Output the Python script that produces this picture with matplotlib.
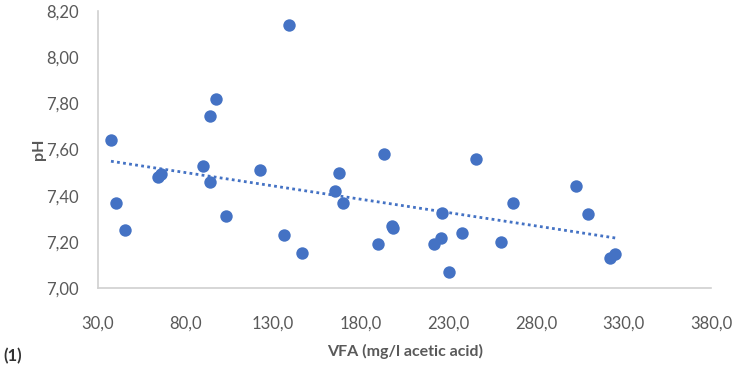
import numpy as np
import matplotlib.pyplot as plt
from matplotlib.ticker import FuncFormatter

# VFA (mg/l acetic acid) vs pH
vfa = [37.4, 40.3, 45.4, 64.5, 65.8, 89.8, 93.8, 93.8, 97.6, 103.1, 122.5,
       136.2, 138.9, 146.7, 165.0, 167.8, 169.7, 189.9, 193.0, 197.7, 198.6,
       221.7, 225.7, 226.6, 230.5, 238.0, 245.9, 260.3, 267.0, 302.8, 309.4,
       322.0, 325.3]
ph = [7.64, 7.37, 7.25, 7.48, 7.495, 7.53, 7.46, 7.745, 7.817, 7.31, 7.51,
      7.23, 8.14, 7.15, 7.42, 7.50, 7.37, 7.19, 7.58, 7.267, 7.258,
      7.19, 7.216, 7.325, 7.07, 7.238, 7.56, 7.20, 7.37, 7.443, 7.32,
      7.132, 7.147]

x_ticks = [30, 80, 130, 180, 230, 280, 330, 380]
y_ticks = [7.0, 7.2, 7.4, 7.6, 7.8, 8.0, 8.2]

blue = '#4472C4'
grey = '#595959'
plt.rcParams['font.family'] = ['Lato', 'DejaVu Sans']

fig = plt.figure(figsize=(7.37, 3.65), dpi=100)
ax = fig.add_axes([0.133, 0.211, 0.832, 0.759])

ax.scatter(vfa, ph, s=80, color=blue, zorder=3, linewidths=0)

# linear trend line
k, b = np.polyfit(vfa, ph, 1)
xs = np.array([min(vfa), max(vfa)])
ax.plot(xs, k * xs + b, color=blue, lw=2, linestyle=(0, (1, 1.2)), zorder=2)

ax.set_xlim(30, 380)
ax.set_ylim(7.0, 8.2)
ax.set_xticks(x_ticks)
ax.set_yticks(y_ticks)
ax.xaxis.set_major_formatter(FuncFormatter(lambda v, p: f'{v:.1f}'.replace('.', ',')))
ax.yaxis.set_major_formatter(FuncFormatter(lambda v, p: f'{v:.2f}'.replace('.', ',')))
ax.tick_params(length=0, labelsize=12, labelcolor=grey)
ax.tick_params(axis='x', pad=20)
ax.tick_params(axis='y', pad=14)

for s in ['top', 'right']:
    ax.spines[s].set_visible(False)
for s in ['left', 'bottom']:
    ax.spines[s].set_color('#D0D0D0')
    ax.spines[s].set_linewidth(1.2)

ax.set_xlabel('VFA (mg/l acetic acid)', fontsize=11.5, fontweight='bold', color=grey, labelpad=9)
ax.set_ylabel('pH', fontsize=11.5, fontweight='bold', color=grey, labelpad=0)

fig.text(0.005, 0.003, '(1)', fontsize=12, fontweight='bold', color='#333333', va='bottom')

fig.savefig('out.png', dpi=100)
